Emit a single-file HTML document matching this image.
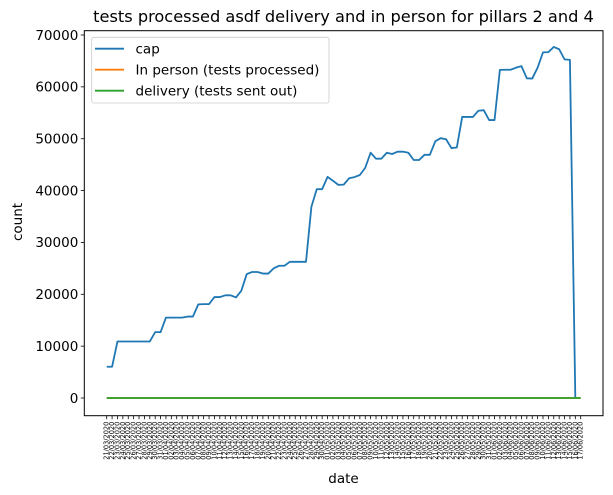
<!DOCTYPE html>
<html><head><meta charset="utf-8"><style>
html,body{margin:0;padding:0;background:#fff;}
svg{display:block;font-family:"DejaVu Sans","Liberation Sans",sans-serif;}
</style></head><body>
<svg id="chart" width="613" height="495" viewBox="0 0 613 495" xmlns="http://www.w3.org/2000/svg">
<text x="343.5" y="22" text-anchor="middle" font-size="16.2" fill="#000">tests processed asdf delivery and in person for pillars 2 and 4</text>
<g id="plot"></g>
<text x="343.5" y="483" text-anchor="middle" font-size="13.5">date</text>
<text transform="translate(22,222) rotate(-90)" text-anchor="middle" font-size="13.5">count</text>
</svg>
<script>
const capValues = [6030,6030,10900,10900,10900,10900,10900,10900,10900,12700,12700,15500,15500,15500,15500,15700,15700,18050,18100,18100,19460,19460,19800,19800,19400,20700,23900,24300,24300,24000,24000,25000,25500,25500,26260,26260,26260,26260,36860,40270,40270,42640,41900,41100,41150,42370,42600,43000,44400,47300,46150,46150,47300,47050,47500,47500,47300,45900,45900,46900,46900,49500,50100,49900,48200,48300,54200,54200,54200,55400,55500,53600,53600,63270,63300,63300,63700,64000,61650,61600,63700,66650,66700,67700,67250,65300,65200,0];
const inPersonValues = new Array(89).fill(0);
const deliveryValues = new Array(89).fill(0);
const yTicks = [0,10000,20000,30000,40000,50000,60000,70000];
const startDate = [2020,2,21];
const nDates = 89;
const dates = [];
for (let i=0;i<nDates;i++){const d=new Date(Date.UTC(startDate[0],startDate[1],startDate[2]+i));dates.push(String(d.getUTCDate()).padStart(2,'0')+'/'+String(d.getUTCMonth()+1).padStart(2,'0')+'/'+d.getUTCFullYear());}

const NS='http://www.w3.org/2000/svg';
const L=84.3,R=603,T=30.7,B=415.7;
const x0=106.7,x1=580.7;
const xs=i=>x0+(x1-x0)*i/(dates.length-1);
const ys=v=>398-v*(398-35)/70000;
const g=document.getElementById('plot');
function mk(t,a){const e=document.createElementNS(NS,t);for(const k in a)e.setAttribute(k,a[k]);g.appendChild(e);return e;}

const fr=mk('rect',{x:L,y:T,width:R-L,height:B-T,fill:'none',stroke:'#000','stroke-width':1});



yTicks.forEach(v=>{
  const tk=mk('line',{x1:L-3.5,x2:L,y1:ys(v),y2:ys(v),stroke:'#000','stroke-width':0.8});
  
  
  const tl=mk('text',{x:L-6,y:ys(v)+4.8,'text-anchor':'end','font-size':13.5});
  tl.textContent=v;
  
  
});
dates.forEach((d,i)=>{
  const tk=mk('line',{x1:xs(i),x2:xs(i),y1:B,y2:B+3.5,stroke:'#000','stroke-width':0.8});
  
  
  const tl=mk('text',{transform:`translate(${xs(i)+2},${B+6}) rotate(-90)`,'text-anchor':'end','font-size':6.6});
  tl.textContent=d;
  
  
});
function series(vals,color,name){
  const p=mk('polyline',{points:vals.map((v,i)=>xs(i)+','+ys(v)).join(' '),fill:'none',stroke:color,'stroke-width':1.8,'stroke-linejoin':'round'});
  
  
}
series(capValues,'#1f77b4','cap-line');
series(inPersonValues,'#ff7f0e','in-person-line');
series(deliveryValues,'#2ca02c','delivery-line');

const lg=mk('rect',{x:91.7,y:37.3,width:237.3,height:65.7,rx:2,fill:'#fff','fill-opacity':0.8,stroke:'#ccc','stroke-width':0.8});


[['cap','#1f77b4'],['In person (tests processed)','#ff7f0e'],['delivery (tests sent out)','#2ca02c']].forEach((e,k)=>{
  const y=48.7+k*21;
  const ln=mk('line',{x1:95,x2:124,y1:y,y2:y,stroke:e[1],'stroke-width':1.8});
  
  
  const t=mk('text',{x:135.5,y:y+4.8,'font-size':13.5});
  t.textContent=e[0];
  
  
});
</script>
</body></html>
